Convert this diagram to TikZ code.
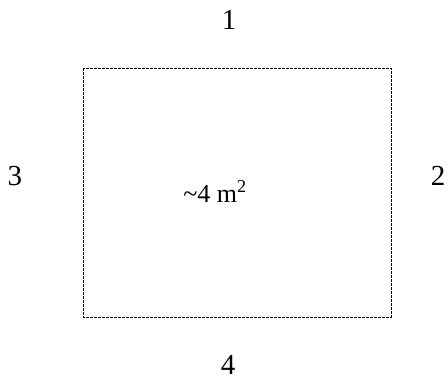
\documentclass[tikz,border=0pt]{standalone}
\usepackage{fontspec}
\setmainfont{Liberation Serif}

\begin{document}
\begin{tikzpicture}[x=1pt,y=-1pt]
    \useasboundingbox (0,0) rectangle (448,380);
    \tikzset{
      area/.style={draw=black,dash pattern=on 3pt off 1pt,line width=0.8pt},
      side/.style={inner sep=0pt,anchor=base,font=\fontsize{29}{34}\selectfont},
      size/.style={inner sep=0pt,anchor=base,font=\fontsize{26}{30}\selectfont}
    }

    % Room outline
    \draw[area] (83,68) rectangle (391,317);
    \node[size] (area) at (215,202) {\char`\~4 m\textsuperscript{2}};

    % Side numbers
    \node[side] (top) at (229,30) {1};
    \node[side] (right) at (438,185) {2};
    \node[side] (left) at (15,185) {3};
    \node[side] (bottom) at (228,374) {4};
  \end{tikzpicture}
\end{document}
